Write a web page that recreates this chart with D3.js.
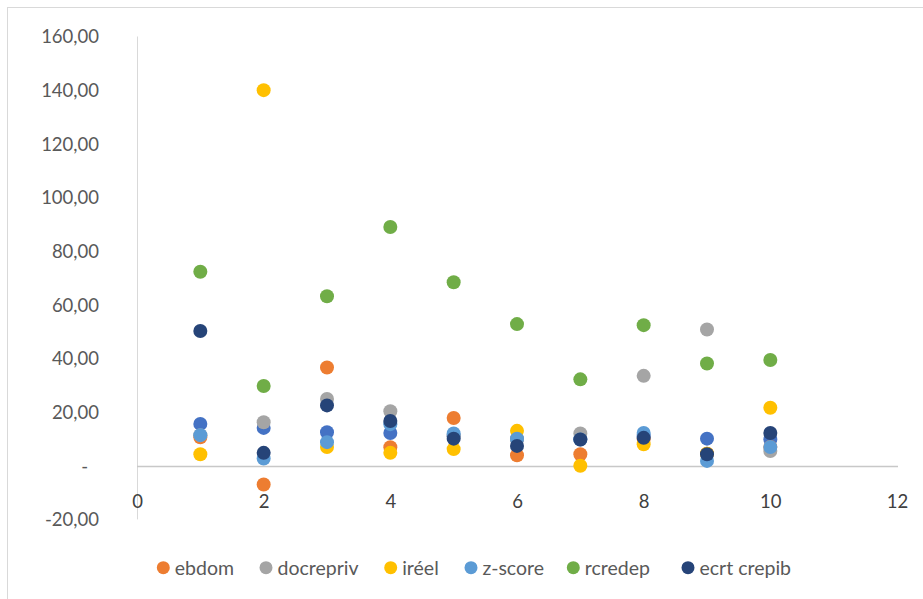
<!DOCTYPE html>
<html><head><meta charset="utf-8">
<script src="https://cdn.jsdelivr.net/npm/d3@7"></script>
<style>body{margin:0;background:#fff}svg{display:block}text{font-family:Lato,"Open Sans",sans-serif}</style>
</head><body>
<svg id="c" width="923" height="599"></svg>
<script>
const xValues = [1,2,3,4,5,6,7,8,9,10];
const xTicks = [0,2,4,6,8,10,12];
const yTicks = [-20,0,20,40,60,80,100,120,140,160];
const seriesNames = ["(sans nom)","ebdom","docrepriv","iréel","z-score","rcredep","ecrt crepib"];
const seriesInLegend = [false,true,true,true,true,true,true];
const seriesColors = ["#4472C4","#ED7D31","#A5A5A5","#FFC000","#5B9BD5","#70AD47","#264478"];
const blueValues      = [15.6,14.1,12.5,12.2,11.0,10.0,10.0,11.0,10.1,9.8];
const ebdomValues     = [10.6,-7.0,36.6,6.9,17.8,3.9,4.3,10.0,4.5,7.0];
const docreprivValues = [11.4,16.2,24.9,20.3,11.0,10.0,12.0,33.5,50.8,5.5];
const ireelValues     = [4.3,140.0,7.0,4.8,6.2,13.0,0.0,8.0,4.5,21.6];
const zscoreValues    = [11.4,2.7,8.8,15.5,12.0,10.1,9.8,12.2,1.8,7.0];
const rcredepValues   = [72.3,29.7,63.2,89.0,68.4,52.8,32.2,52.4,38.1,39.4];
const ecrtValues      = [50.2,4.8,22.5,16.7,10.1,7.4,9.8,10.4,4.3,12.2];
const allValues = [blueValues,ebdomValues,docreprivValues,ireelValues,zscoreValues,rcredepValues,ecrtValues];

const svg = d3.select("#c");
svg.append("rect").attr("x",7.5).attr("y",7.5).attr("width",1000).attr("height",1000)
  .attr("fill","#fff").attr("stroke","#D9D9D9");

const x = d3.scaleLinear().domain([0,12]).range([137,897]);
const y = d3.scaleLinear().domain([-20,160]).range([519.4,36.5]);

svg.append("line").attr("x1",x(0)+0.5).attr("x2",x(0)+0.5).attr("y1",y(160)).attr("y2",y(-20))
  .attr("stroke","#D9D9D9").attr("stroke-width",1);
svg.append("line").attr("x1",x(0)).attr("x2",x(12)+1).attr("y1",Math.round(y(0))+0.5).attr("y2",Math.round(y(0))+0.5)
  .attr("stroke","#C8C8C8").attr("stroke-width",1.3);

const fmt = v => v===0 ? "-" : d3.format(".2f")(v).replace(".",",").replace("\u2212","-");
const yAxis = d3.axisLeft(y).tickValues(yTicks).tickSize(0).tickPadding(0).tickFormat(fmt);
const gy = svg.append("g").attr("transform","translate(99,0)").call(yAxis);
gy.select(".domain").remove();
gy.selectAll("text").attr("font-size",18.5).attr("fill","#595959").attr("dy","0.35em");
gy.selectAll(".tick").filter(d=>d===0).select("text").attr("dx",-11);

const xAxis = d3.axisBottom(x).tickValues(xTicks).tickSize(0).tickPadding(0).tickFormat(d3.format("d"));
const gx = svg.append("g").attr("transform","translate(0,502)").call(xAxis);
gx.select(".domain").remove();
gx.selectAll("text").attr("font-size",18.5).attr("fill","#404040").attr("dy","0.35em");

allValues.forEach((vals,i)=>{
  svg.append("g").selectAll("circle").data(vals.map((v,j)=>({x:xValues[j],v})))
    .join("circle").attr("cx",d=>x(d.x)).attr("cy",d=>y(d.v)).attr("r",7)
    .attr("fill",seriesColors[i]);
});

const legendX = [163.3,266,390.7,471,573.3,688];
const leg = svg.append("g");
let k=0;
seriesNames.forEach((n,i)=>{
  if(!seriesInLegend[i]) return;
  const lx = legendX[k++];
  leg.append("circle").attr("cx",lx).attr("cy",567.7).attr("r",6.5).attr("fill",seriesColors[i]);
  leg.append("text").attr("x",lx+11.5).attr("y",567.7).attr("dy","0.35em").attr("font-size",19.5)
    .attr("fill","#595959").text(n);
});
</script>
</body></html>
